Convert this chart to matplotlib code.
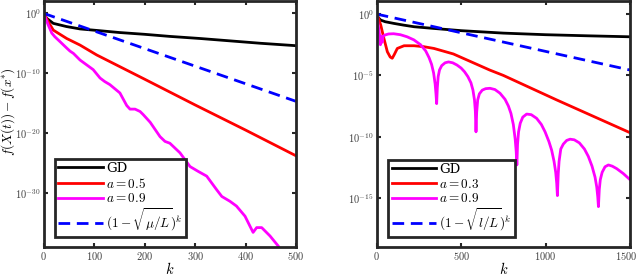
import numpy as np
import matplotlib
matplotlib.use("Agg")
import matplotlib.pyplot as plt
import matplotlib.transforms as mtransforms

plt.rcParams['mathtext.fontset'] = 'cm'
plt.rcParams['font.family'] = ['DejaVu Serif']

# ---------------- Left panel data (k, log10 value) ----------------
k_left_gd = [0, 6, 19, 45, 72, 105, 150, 200, 250, 310, 370, 430, 500]
e_left_gd = [0, -0.83, -1.67, -2.2, -2.6, -2.85, -3.2, -3.5, -3.85, -4.2, -4.6, -5.0, -5.4]

k_left_a5 = [0, 9, 19, 45.6, 72, 105, 200, 300, 400, 500]
e_left_a5 = [0, -1.4, -2.8, -4.2, -5.3, -6.95, -11.0, -15.3, -19.5, -23.8]

k_left_a9 = [0, 9, 16, 22, 32, 45.6, 52, 59, 72, 85, 98, 111.6, 121, 131, 151, 164.5,
             171, 181, 191, 197, 211, 230.5, 240.4, 250, 270, 290, 306, 323, 343, 353,
             369, 382, 399, 409, 415, 422, 432, 448.5, 465, 470]
e_left_a9 = [0, -1.95, -3.3, -3.9, -4.7, -5.8, -6.3, -6.7, -7.8, -8.6, -9.4, -10.8, -11.4, -11.9,
             -13.3, -15.4, -16.0, -16.0, -16.4, -16.9, -18.2, -20.6, -21.4, -21.7, -23.3, -25.6,
             -26.4, -27.2, -29.5, -30.6, -31.4, -32.2, -33.9, -35.6, -36.6, -35.8, -35.8, -37.2,
             -38.9, -39.6]

k_left_rate = [0, 500]
e_left_rate = [0, -14.7]

# ---------------- Right panel data (k, log10 value) ----------------
k_right_gd = [0, 10, 24, 50, 102, 160, 221, 339, 500, 750, 1000, 1250, 1500]
e_right_gd = [0, -0.3, -0.49, -0.62, -0.76, -0.9, -1.03, -1.17, -1.35, -1.55, -1.68, -1.77, -1.85]

k_right_a3 = [0, 12, 24, 43, 63, 80, 92, 104, 122, 162, 221, 280, 339, 454, 669, 750, 1066, 1500]
e_right_a3 = [0, -0.4, -0.9, -2.0, -3.07, -3.5, -3.6, -3.3, -2.8, -2.58, -2.58, -2.66, -2.8,
              -3.25, -4.56, -5.0, -7.0, -9.67]

k_right_a9 = [0, 8, 16, 22, 26, 32, 38, 50, 70, 100, 140, 180, 220, 260, 290, 310, 325, 337,
              346, 351, 355, 359, 364, 372, 385, 405, 425, 450, 475, 500, 520, 540, 558, 570,
              579, 584, 588, 592, 598, 608, 625, 645, 671, 700, 730, 760, 780, 795, 809, 820,
              826, 830, 834, 840, 850, 865, 888, 915, 947, 975, 997, 1020, 1036, 1050, 1060,
              1066, 1070, 1075, 1080, 1090, 1105, 1125, 1145, 1170, 1200, 1230, 1253, 1275,
              1293, 1303, 1309, 1313, 1318, 1324, 1335, 1352, 1372, 1395, 1421, 1460, 1500]
e_right_a9 = [0, -0.8, -1.6, -2.5, -1.8, -2.3, -1.8, -1.7, -1.62, -1.6, -1.68, -1.85, -2.1,
              -2.5, -3.0, -3.55, -4.1, -4.8, -5.7, -6.5, -7.3, -6.0, -5.1, -4.55, -4.2, -3.97,
              -3.9, -3.97, -4.15, -4.4, -4.7, -5.1, -5.6, -6.2, -7.0, -7.9, -9.6, -8.0, -7.0,
              -6.5, -6.2, -6.08, -6.05, -6.15, -6.45, -6.95, -7.5, -8.1, -9.0, -10.2, -11.2,
              -12.3, -10.6, -9.6, -8.9, -8.4, -8.15, -8.2, -8.5, -9.0, -9.6, -10.4, -11.1,
              -12.0, -12.9, -13.8, -14.8, -13.0, -12.0, -11.0, -10.6, -10.3, -10.2, -10.25,
              -10.5, -11.0, -11.6, -12.4, -13.3, -14.1, -14.9, -15.7, -14.3, -13.5, -12.9,
              -12.45, -12.3, -12.4, -12.6, -13.0, -13.5]

k_right_rate = [0, 1500]
e_right_rate = [0, -4.56]

left_labels = ['GD', r'$a=0.5$', r'$a=0.9$', r'$(1-\sqrt{\mu/L})^k$']
right_labels = ['GD', r'$a=0.3$', r'$a=0.9$', r'$(1-\sqrt{l/L})^k$']

left_xticks = [0, 100, 200, 300, 400, 500]
right_xticks = [0, 500, 1000, 1500]
left_yexp = [0, -10, -20, -30]
right_yexp = [0, -5, -10, -15]

fig = plt.figure(figsize=(6.4, 2.76), dpi=100)
axL = fig.add_axes([0.0683, 0.106, 0.3942, 0.890])
axR = fig.add_axes([0.5886, 0.106, 0.3958, 0.890])

LW = 2.0
frame_col = '#262626'
tick_col = '#404040'


def draw(ax, series, labels, xlim, ylim_exp, xticks, yexp):
    cols = ['black', 'red', '#ff00ff', 'blue']
    for (kk, ee), c, lab in zip(series, cols, labels):
        y = 10.0 ** np.array(ee, dtype=float)
        if c == 'blue':
            ax.plot(kk, y, color=c, lw=LW, dashes=(4.2, 2.4), label=lab)
        else:
            ax.plot(kk, y, color=c, lw=LW, label=lab)
    ax.set_yscale('log')
    ax.set_xlim(*xlim)
    ax.set_ylim(10.0 ** ylim_exp[0], 10.0 ** ylim_exp[1])
    ax.set_xticks(xticks)
    ax.set_xticklabels([r'$%d$' % t for t in xticks])
    ax.set_yticks([10.0 ** e for e in yexp])
    ax.set_yticklabels([r'$10^{%d}$' % e for e in yexp])
    ax.minorticks_off()
    ax.tick_params(direction='in', length=3, width=1.5, top=True, right=True,
                   labelsize=7.5, colors=frame_col, labelcolor=tick_col, pad=2)
    for s in ax.spines.values():
        s.set_linewidth(2.0)
        s.set_color(frame_col)
    ax.set_xlabel(r'$k$', fontsize=10.5, labelpad=0)
    ax.xaxis.set_label_coords(0.5, -0.06)
    leg = ax.legend(loc='lower left', bbox_to_anchor=(0.035, 0.03), fontsize=9.5,
                    frameon=True, fancybox=False, edgecolor=frame_col, framealpha=1,
                    handlelength=3.4, handletextpad=0.2, borderpad=0.25,
                    labelspacing=0.12, borderaxespad=0.2)
    leg.get_frame().set_linewidth(2.0)


draw(axL, [(k_left_gd, e_left_gd), (k_left_a5, e_left_a5), (k_left_a9, e_left_a9),
           (k_left_rate, e_left_rate)], left_labels, (0, 500), (-39, 2.05),
     left_xticks, left_yexp)
draw(axR, [(k_right_gd, e_right_gd), (k_right_a3, e_right_a3), (k_right_a9, e_right_a9),
           (k_right_rate, e_right_rate)], right_labels, (0, 1500), (-18.97, 1.06),
     right_xticks, right_yexp)

# nudge the last right-panel tick label slightly left so it stays inside the figure
last = axR.xaxis.get_major_ticks()[-1].label1
last.set_transform(last.get_transform() +
                   mtransforms.ScaledTranslation(-2.5 / 72, 0, fig.dpi_scale_trans))

axL.set_ylabel(r'$f(X(t)) - f(x^{*})$', fontsize=9.5, labelpad=0)
axL.yaxis.set_label_coords(-0.105, 0.55)

fig.savefig('out.png', dpi=100)
